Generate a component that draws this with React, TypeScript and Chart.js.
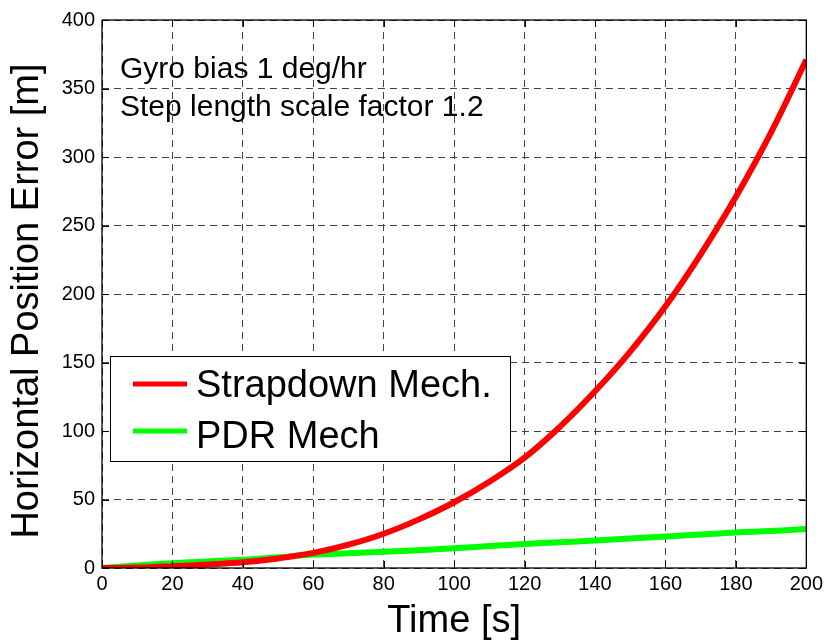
import React, { useEffect, useRef } from "react";
import { Chart, registerables } from "chart.js";

Chart.register(...registerables);

// ---- data ----
const timeS = [0, 10, 20, 30, 40, 50, 60, 70, 80, 90, 100, 110, 120, 130, 140, 150, 160, 170, 180, 190, 200];
const strapdownErr = [0, 0.3, 1.3, 2.6, 4.2, 7, 11, 17, 25, 35.5, 48, 63, 80.5, 103, 129, 158, 191, 229, 271, 318, 371];
const pdrErr = [0, 1.8, 3.5, 4.8, 6, 7.8, 9.8, 10.8, 11.8, 13, 14.4, 16, 17.5, 18.8, 20, 21.5, 23, 24.5, 26, 27, 28.5];
const xTicks = [0, 20, 40, 60, 80, 100, 120, 140, 160, 180, 200];
const yTicks = [0, 50, 100, 150, 200, 250, 300, 350, 400];
const seriesLabels = ["Strapdown Mech.", "PDR Mech"];
const seriesColors = ["#ff0000", "#00ff00"];
const annotationLines = ["Gyro bias 1 deg/hr", "Step length scale factor 1.2"];
const xTitle = "Time [s]";
const yTitle = "Horizontal Position Error [m]";

const FONT = '"Liberation Sans", Arial, Helvetica, sans-serif';

const framePlugin = {
  id: "matlabFrame",
  afterDatasetsDraw(chart: any) {
    const { ctx, chartArea } = chart;
    const { left, right, top, bottom } = chartArea;
    const xs = chart.scales.x;
    const ys = chart.scales.y;
    ctx.save();
    // box
    ctx.strokeStyle = "#000";
    ctx.lineWidth = 1.3;
    ctx.setLineDash([]);
    ctx.strokeRect(left, top, right - left, bottom - top);
    // inner ticks
    const tl = 7;
    ctx.lineWidth = 1;
    ctx.beginPath();
    xTicks.forEach((v) => {
      const px = Math.round(xs.getPixelForValue(v)) + 0.5;
      ctx.moveTo(px, bottom);
      ctx.lineTo(px, bottom - tl);
      ctx.moveTo(px, top);
      ctx.lineTo(px, top + tl);
    });
    yTicks.forEach((v) => {
      const py = Math.round(ys.getPixelForValue(v)) + 0.5;
      ctx.moveTo(left, py);
      ctx.lineTo(left + tl, py);
      ctx.moveTo(right, py);
      ctx.lineTo(right - tl, py);
    });
    ctx.stroke();

    // y axis title (drawn manually for exact placement)
    ctx.save();
    ctx.fillStyle = "#000";
    ctx.font = `38px ${FONT}`;
    ctx.textAlign = "center";
    ctx.textBaseline = "middle";
    ctx.translate(28, 301);
    ctx.rotate(-Math.PI / 2);
    ctx.fillText(yTitle, 0, 0);
    ctx.restore();

    // annotation text
    ctx.fillStyle = "#000";
    ctx.font = `30px ${FONT}`;
    ctx.textAlign = "left";
    ctx.textBaseline = "alphabetic";
    annotationLines.forEach((t, i) => {
      ctx.fillText(t, 120, 78 + i * 38);
    });

    // legend box
    const lx = 110.5, ly = 356.5, lw = 400, lh = 105;
    ctx.fillStyle = "#fff";
    ctx.fillRect(lx, ly, lw, lh);
    ctx.strokeStyle = "#000";
    ctx.lineWidth = 1;
    ctx.strokeRect(lx, ly, lw, lh);
    const rowsLine = [384, 431];
    const rowsText = [396.5, 448];
    ctx.font = `38px ${FONT}`;
    seriesLabels.forEach((lab, i) => {
      ctx.strokeStyle = seriesColors[i];
      ctx.lineWidth = 5;
      ctx.beginPath();
      ctx.moveTo(133, rowsLine[i]);
      ctx.lineTo(187, rowsLine[i]);
      ctx.stroke();
      ctx.fillStyle = "#000";
      ctx.fillText(lab, 196, rowsText[i]);
    });
    ctx.restore();
  },
};

export default function App() {
  const ref = useRef<HTMLCanvasElement | null>(null);

  useEffect(() => {
    const canvas = ref.current;
    if (!canvas) return;
    const chart = new Chart(canvas, {
      type: "line",
      data: {
        datasets: [
          {
            label: seriesLabels[0],
            data: timeS.map((t, i) => ({ x: t, y: strapdownErr[i] })),
            borderColor: seriesColors[0],
            backgroundColor: seriesColors[0],
            borderWidth: 6,
            pointRadius: 0,
            tension: 0.4,
          },
          {
            label: seriesLabels[1],
            data: timeS.map((t, i) => ({ x: t, y: pdrErr[i] })),
            borderColor: seriesColors[1],
            backgroundColor: seriesColors[1],
            borderWidth: 6,
            pointRadius: 0,
            tension: 0.4,
          },
        ],
      },
      options: {
        responsive: false,
        animation: false,
        devicePixelRatio: 1,
        layout: { padding: { top: 20, right: 20, left: 0, bottom: 0 } },
        plugins: {
          legend: { display: false },
          tooltip: { enabled: false },
        },
        scales: {
          x: {
            type: "linear",
            min: 0,
            max: 200,
            afterBuildTicks: (s: any) => {
              s.ticks = xTicks.map((v) => ({ value: v }));
            },
            afterFit: (s: any) => {
              s.height = 76;
            },
            ticks: {
              color: "#000",
              font: { family: FONT, size: 20 },
              padding: 4,
              maxRotation: 0,
              autoSkip: false,
            },
            grid: { color: "#444", lineWidth: 1, drawTicks: false },
            border: { display: false, dash: [7, 5] },
            title: {
              display: true,
              text: xTitle,
              color: "#000",
              font: { family: FONT, size: 38 },
              padding: { top: 0, bottom: 0 },
            },
          },
          y: {
            type: "linear",
            min: 0,
            max: 400,
            afterBuildTicks: (s: any) => {
              s.ticks = yTicks.map((v) => ({ value: v }));
            },
            afterFit: (s: any) => {
              s.width = 102;
            },
            ticks: {
              color: "#000",
              font: { family: FONT, size: 20 },
              padding: 7,
              autoSkip: false,
            },
            grid: { color: "#444", lineWidth: 1, drawTicks: false },
            border: { display: false, dash: [7, 5] },
            title: { display: false },
          },
        },
      },
      plugins: [framePlugin],
    });
    return () => chart.destroy();
  }, []);

  return (
    <div style={{ position: "fixed", left: 0, top: 0, width: 827, height: 644, background: "#fff" }}>
      <canvas ref={ref} width={827} height={644} style={{ display: "block", width: 827, height: 644 }} />
    </div>
  );
}
